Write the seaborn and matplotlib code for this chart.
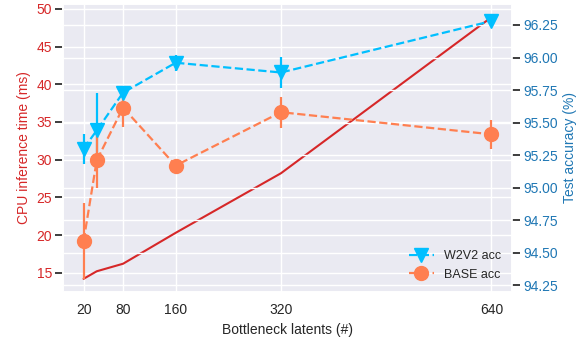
import matplotlib
matplotlib.use("Agg")
import matplotlib.pyplot as plt
import seaborn as sns
import pandas as pd

latents = [20, 40, 80, 160, 320, 640]
cpu_time = [14.2, 15.2, 16.2, 20.3, 28.2, 48.9]

w2v2_acc = [95.30, 95.44, 95.73, 95.96, 95.885, 96.28]
w2v2_err = [0.115, 0.29, 0.04, 0.06, 0.12, 0.03]
base_acc = [94.59, 95.21, 95.615, 95.17, 95.58, 95.41]
base_err = [0.29, 0.21, 0.15, 0.02, 0.12, 0.11]

xticks = [20, 80, 160, 320, 640]

sns.set_theme(style="darkgrid")
plt.rcParams['font.family'] = ['Liberation Sans', 'DejaVu Sans']

df = pd.DataFrame({'latents': latents, 'cpu': cpu_time})

fig, ax = plt.subplots(figsize=(5.85, 3.41), dpi=100)
fig.subplots_adjust(left=0.108, right=0.875, top=0.988, bottom=0.144)

sns.lineplot(data=df, x='latents', y='cpu', color='tab:red', linewidth=1.5, ax=ax)
ax.set_xlabel('Bottleneck latents (#)', fontsize=10)
ax.set_ylabel('CPU inference time (ms)', color='tab:red', fontsize=10)
ax.tick_params(axis='y', labelcolor='tab:red', labelsize=10, pad=2)
ax.tick_params(axis='x', labelsize=10, pad=2)
ax.set_xticks(xticks)

ax2 = ax.twinx()
ax2.errorbar(latents, w2v2_acc, yerr=w2v2_err, color='deepskyblue', linestyle='--',
             marker='v', markersize=10, linewidth=1.6, elinewidth=1.6, label='W2V2 acc')
ax2.errorbar(latents, base_acc, yerr=base_err, color='coral', linestyle='--',
             marker='o', markersize=10, linewidth=1.6, elinewidth=1.6, label='BASE acc')
ax2.set_ylabel('Test accuracy (%)', color='tab:blue', fontsize=10)
ax2.tick_params(axis='y', labelcolor='tab:blue', labelsize=10, pad=2)
ax2.legend(loc='lower right', frameon=False, fontsize=9)

plt.savefig('out.png', dpi=100)
